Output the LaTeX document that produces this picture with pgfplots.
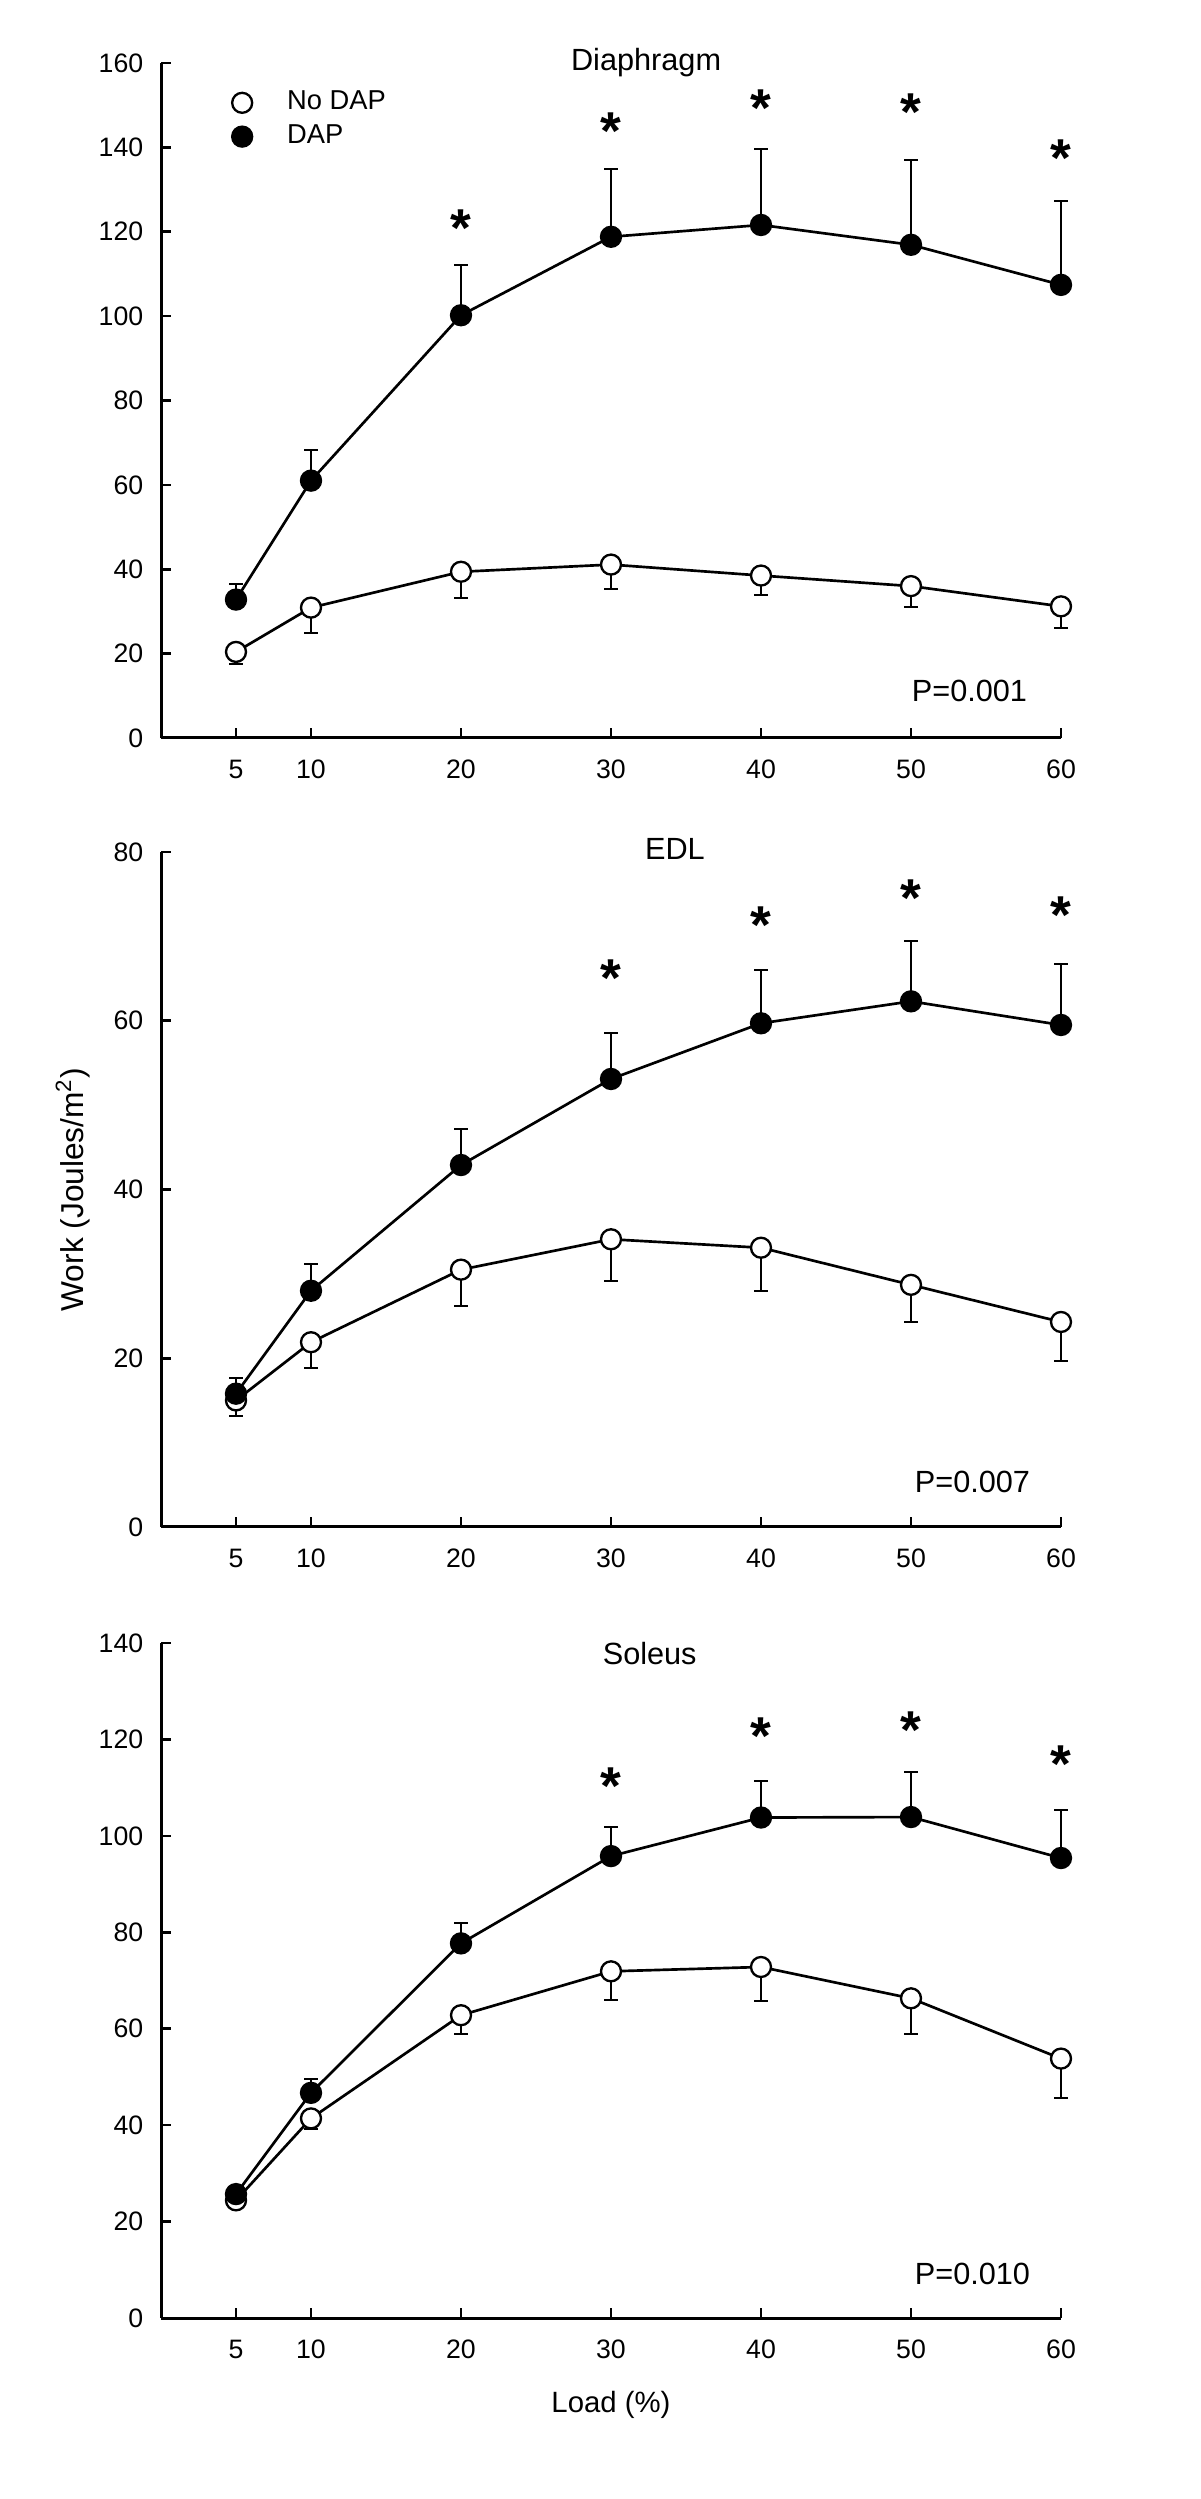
\documentclass[border=0pt]{standalone}
\usepackage{fontspec}
\setmainfont{Liberation Sans}
\usepackage{pgfplots}
\pgfplotsset{compat=1.18}

\tikzset{pval/.style={font=\fontsize{9.2}{11}\selectfont, anchor=center}}

\pgfplotsset{
  panel/.style={
    scale only axis, width=270pt, height=202.5pt,
    xmin=0, xmax=60, ymin=0,
    axis x line=bottom, axis y line=left,
    axis line style={-, line width=0.9pt},
    xtick={5,10,20,30,40,50,60},
    tick align=inside, major tick length=3pt,
    tick style={line width=0.8pt, black},
    ticklabel style={font=\fontsize{8}{9.6}\selectfont},
    xticklabel style={yshift=-3pt},
    yticklabel style={xshift=-1.8pt},
    /pgf/number format/assume math mode=true,
    clip=false, anchor=south west,
  },
  ptitle/.style n args={2}{every axis title/.style={at={(axis description cs:#1,#2)},
    anchor=center, font=\fontsize{9.2}{11}\selectfont}},
  nodap/.style={black, line width=0.8pt, mark=*, mark size=3pt,
    mark options={fill=white, line width=0.7pt},
    error bars/.cd, y dir=minus, y explicit,
    error bar style={line width=0.6pt},
    error mark=-,
    error mark options={rotate=90, black, mark size=2pt, line width=0.6pt}},
  dap/.style={black, line width=0.8pt, mark=*, mark size=3pt,
    mark options={fill=black, line width=0.7pt},
    error bars/.cd, y dir=plus, y explicit,
    error bar style={line width=0.6pt},
    error mark=-,
    error mark options={rotate=90, black, mark size=2pt, line width=0.6pt}},
  star/.style={draw=none, mark=none, nodes near coords={\textbf{*}},
    every node near coord/.style={anchor=center, inner sep=0pt,
      font=\fontsize{16}{16}\selectfont, yshift=-3.1pt}},
}

\begin{document}
\begin{tikzpicture}
\path[use as bounding box] (0,0) rectangle (360pt,749.7pt);

% Diaphragm
\begin{axis}[panel, at={(48.3pt,528.3pt)},
    ymax=160, ytick={0,20,...,160},
    title={Diaphragm}, ptitle={0.539}{1},
    legend image code/.code={\path[draw=none] (0pt,0pt) -- (24pt,0pt);
      \draw[#1, only marks] plot coordinates {(12pt,0pt)};},
    legend cell align=left,
    legend style={at={(axis description cs:0.045,0.967)}, anchor=north west,
      draw=none, fill=none, inner sep=0pt, row sep=0pt,
      font=\fontsize{8.2}{9.8}\selectfont, nodes={inner sep=1.5pt}},
]
\addplot+[nodap] coordinates {
  (5,20.4) -= (0,2.9) (10,30.9) -= (0,5.9) (20,39.4) -= (0,6.3)
  (30,41.1) -= (0,5.7) (40,38.5) -= (0,4.7) (50,36.0) -= (0,4.9)
  (60,31.2) -= (0,5.2)
};
\addplot+[dap] coordinates {
  (5,32.8) += (0,3.8) (10,61.0) += (0,7.2) (20,100.2) += (0,11.9)
  (30,118.8) += (0,16.0) (40,121.6) += (0,18.0) (50,116.9) += (0,20.0)
  (60,107.4) += (0,19.9)
};
\addplot[star] coordinates {(20,123.4) (30,146.4) (40,151.7) (50,150.8) (60,139.9)};
\legend{No DAP, DAP}
\node[pval] at (axis cs:53.9,11.2) {P=0.001};
\end{axis}

% EDL
\begin{axis}[panel, at={(48.3pt,291.6pt)},
    ymax=80, ytick={0,20,...,80},
    title={EDL}, ptitle={0.571}{1.004},
    ylabel={Work (Joules/m\textsuperscript{2})},
    every axis y label/.style={at={(axis description cs:0,0.5)}, rotate=90,
      anchor=center, yshift=26.4pt, font=\fontsize{9.5}{11}\selectfont},
]
\addplot+[nodap] coordinates {
  (5,15.0) -= (0,1.9) (10,21.9) -= (0,3.0) (20,30.5) -= (0,4.3)
  (30,34.1) -= (0,5.0) (40,33.1) -= (0,5.1) (50,28.7) -= (0,4.4)
  (60,24.3) -= (0,4.6)
};
\addplot+[dap] coordinates {
  (5,15.8) += (0,1.9) (10,28.0) += (0,3.2) (20,42.9) += (0,4.3)
  (30,53.1) += (0,5.5) (40,59.7) += (0,6.3) (50,62.3) += (0,7.1)
  (60,59.5) += (0,7.2)
};
\addplot[star] coordinates {(30,66.3) (40,72.5) (50,75.8) (60,73.8)};
\node[pval] at (axis cs:54.1,5.3) {P=0.007};
\end{axis}

% Soleus
\begin{axis}[panel, at={(48.3pt,54.3pt)},
    ymax=140, ytick={0,20,...,140},
    title={Soleus}, ptitle={0.543}{0.984},
    xlabel={Load (\%)},
    every axis x label/.style={at={(axis description cs:0.5,0)}, anchor=center,
      yshift=-26.1pt, font=\fontsize{8.8}{10.5}\selectfont},
]
\addplot+[nodap] coordinates {
  (5,24.4) -= (0,0.9) (10,41.4) -= (0,2.1) (20,62.8) -= (0,4.0)
  (30,71.9) -= (0,6.0) (40,72.8) -= (0,7.0) (50,66.3) -= (0,7.5)
  (60,53.8) -= (0,8.2)
};
\addplot+[dap] coordinates {
  (5,25.7) += (0,0.8) (10,46.7) += (0,2.9) (20,77.7) += (0,4.3)
  (30,95.8) += (0,6.0) (40,103.8) += (0,7.5) (50,103.9) += (0,9.3)
  (60,95.4) += (0,10.0)
};
\addplot[star] coordinates {(30,112.4) (40,122.8) (50,124.1) (60,117.1)};
\node[pval] at (axis cs:54.1,9.2) {P=0.010};
\end{axis}
\end{tikzpicture}
\end{document}
